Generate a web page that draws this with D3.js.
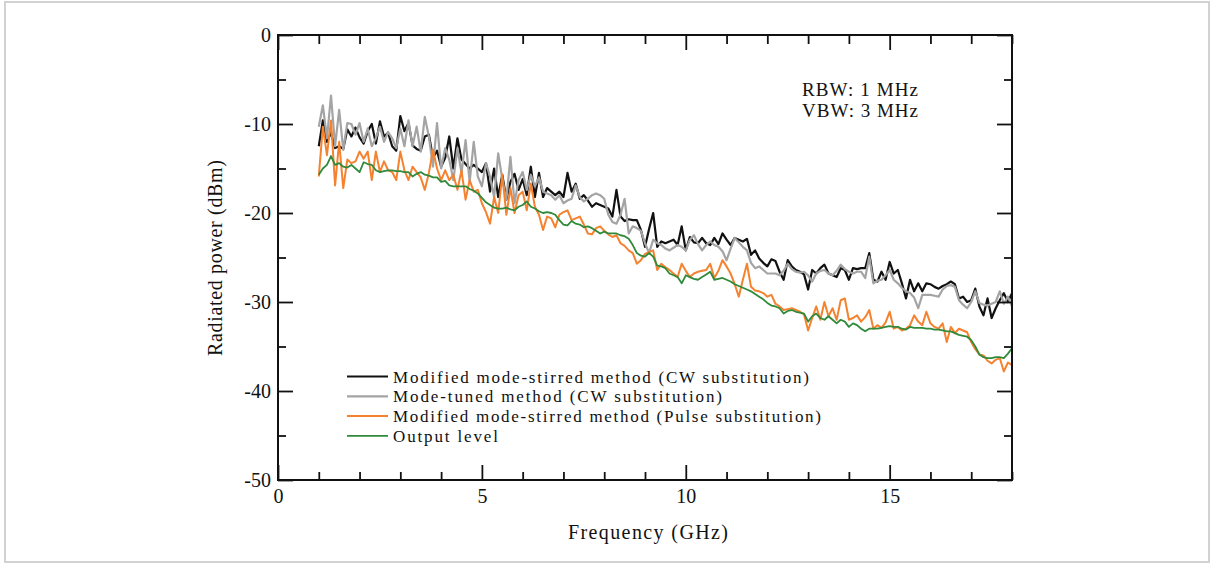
<!DOCTYPE html>
<meta charset="utf-8">
<head>
  <script src="https://d3js.org/d3.v7.min.js"></script>
</head>
<style>
  body { margin: 0; background: #fff; }
  text { font-family: "Liberation Serif", "Times New Roman", serif; fill: #111; }
  .axis path { display: none; }
  .axis line { stroke: #111; stroke-width: 1.8; }
  .axis text { font-size: 20px; font-family: "Liberation Serif", serif; fill: #111; }
</style>
<body>
<script>
  // frequencies: 1.0 .. 18.0 GHz, 0.1 GHz step
  var freq = d3.range(0, 171).map(function (i) { return +(1 + i * 0.1).toFixed(1); });

  var stirredCW = [
    -12.5, -9.6, -12.0, -11.0, -12.7, -12.5, -12.8, -10.6, -11.4, -10.4,
    -11.5, -12.2, -10.8, -10.0, -12.2, -9.7, -11.4, -11.0, -12.5, -13.0,
    -9.1, -10.8, -9.9, -12.4, -12.8, -13.0, -11.4, -11.2, -13.8, -13.0,
    -14.8, -13.8, -11.4, -15.0, -11.6, -14.0, -14.5, -15.0, -14.6, -15.0,
    -15.4, -14.4, -17.6, -15.0, -18.2, -15.7, -18.5, -16.5, -15.6, -17.4,
    -16.2, -18.0, -14.8, -18.2, -15.5, -18.2, -17.2, -17.6, -18.0, -17.6,
    -18.2, -15.5, -17.6, -16.7, -18.4, -18.0, -18.6, -19.3, -18.9, -19.1,
    -19.3, -19.5, -20.4, -17.4, -20.4, -20.9, -20.7, -20.8, -20.8, -21.9,
    -23.8, -21.8, -20.0, -23.8, -23.2, -23.4, -23.2, -23.0, -23.6, -21.5,
    -24.2, -22.7, -23.3, -23.4, -22.8, -23.4, -23.6, -22.8, -23.5, -22.3,
    -23.0, -23.6, -22.8, -23.0, -23.2, -22.9, -24.7, -24.2, -25.1, -25.6,
    -26.0, -25.2, -25.4, -26.6, -27.5, -25.3, -26.0, -26.4, -26.6, -26.9,
    -28.6, -26.4, -26.8, -26.2, -25.8, -26.8, -27.0, -27.2, -26.2, -26.4,
    -27.5, -26.2, -26.3, -26.2, -26.2, -24.5, -27.5, -27.7, -26.6, -27.5,
    -25.5, -26.8, -26.4, -27.9, -29.6, -27.5, -28.8, -27.9, -28.8, -27.9,
    -28.0, -28.3, -28.5, -28.2, -28.0, -27.7, -28.0, -29.6, -29.4, -30.0,
    -29.8, -28.5, -30.5, -31.5, -29.6, -31.8, -30.7, -29.8, -29.0, -30.0,
    -29.0
  ];

  var tunedCW = [
    -10.3, -7.9, -11.6, -6.8, -12.5, -8.4, -12.9, -9.9, -10.0, -11.2,
    -9.9, -12.0, -10.5, -12.5, -11.6, -10.3, -12.0, -10.9, -11.6, -12.7,
    -10.5, -12.5, -9.6, -12.5, -10.3, -13.1, -9.2, -11.4, -14.8, -9.9,
    -15.0, -12.7, -14.0, -16.3, -12.7, -15.5, -11.8, -16.5, -12.0, -15.9,
    -17.0, -14.4, -15.9, -18.2, -13.3, -16.2, -18.5, -13.7, -18.9, -16.3,
    -15.4, -17.4, -15.7, -17.0, -16.0, -17.6, -17.8, -18.0, -18.5, -18.0,
    -18.9, -18.6, -18.4, -16.9, -18.2, -18.7, -18.4, -18.0, -17.8, -18.0,
    -18.4, -20.2, -21.0, -21.2, -20.2, -18.4, -22.3, -21.5, -21.7, -22.0,
    -23.4, -24.5, -23.0, -23.4, -23.6, -24.0, -24.2, -23.9, -23.6, -23.8,
    -24.2, -23.0, -22.5, -23.5, -24.2, -23.6, -23.2, -23.6, -23.8, -24.3,
    -25.3, -24.0, -22.8, -23.3, -23.8, -24.2, -25.6, -26.2, -26.0, -26.4,
    -26.8, -26.8, -26.8, -27.0, -26.5, -25.7, -26.3, -26.6, -26.7, -26.6,
    -27.0, -27.7, -26.8, -26.5, -26.4, -26.8, -27.0, -26.5, -25.8, -26.3,
    -26.6, -26.8, -26.6, -26.6, -27.3, -24.9, -27.9, -27.6, -27.5, -27.0,
    -26.4, -27.5, -27.9, -28.4, -28.8, -29.0, -29.5, -30.7, -29.2, -29.2,
    -29.2, -29.3, -29.4, -28.6, -28.2, -28.1, -28.3, -29.8, -30.3, -30.7,
    -30.0, -28.8, -30.1, -30.3, -30.4, -30.2, -30.0, -28.8, -30.2, -29.4,
    -30.5
  ];

  var stirredPulse = [
    -15.9, -10.3, -13.5, -9.6, -16.9, -12.0, -17.2, -14.0, -14.4, -14.2,
    -13.1, -13.9, -13.1, -16.3, -13.1, -15.4, -14.2, -15.2, -15.4, -16.3,
    -13.1, -15.2, -16.3, -14.8, -15.4, -16.0, -17.4, -15.5, -12.9, -15.0,
    -16.3, -15.2, -16.3, -15.7, -17.4, -15.2, -18.5, -16.3, -17.6, -17.4,
    -18.9, -19.9, -21.2, -18.2, -20.0, -15.7, -20.2, -17.2, -20.0, -18.0,
    -17.6, -19.7, -16.7, -19.3, -20.2, -21.9, -20.4, -20.6, -21.6, -20.2,
    -19.9, -19.7, -20.8, -20.6, -20.4, -21.3, -22.3, -22.4, -21.7, -21.5,
    -22.0, -22.4, -22.7, -22.5, -23.4, -23.7, -24.2, -24.5, -25.7, -25.3,
    -24.6, -24.4, -24.2, -26.4, -25.7, -26.1, -26.4, -26.8, -27.2, -25.7,
    -26.5, -27.2, -26.8, -26.6, -26.5, -26.4, -25.7, -27.3, -26.5, -25.3,
    -26.0, -26.8, -28.0, -29.4, -27.5, -25.7, -28.3, -28.7, -28.8, -29.0,
    -29.4, -29.2, -30.2, -30.5, -30.9, -30.8, -30.7, -30.9, -31.1, -31.4,
    -33.2, -31.8, -30.5, -32.0, -30.0, -31.6, -30.7, -32.0, -29.8, -29.6,
    -32.0, -31.8, -31.5, -32.2, -31.7, -30.9, -33.0, -32.6, -32.9, -32.3,
    -31.1, -33.0, -32.8, -33.2, -33.0, -32.6, -31.5, -32.2, -32.6, -31.1,
    -32.4, -32.8, -33.0, -32.4, -34.5, -32.8, -33.5, -33.0, -33.2, -33.4,
    -34.5, -35.3, -35.9, -36.0, -36.6, -36.9, -36.5, -36.3, -37.8, -36.8,
    -37.1
  ];

  var outputLevel = [
    -15.7, -15.0, -14.6, -13.6, -14.6, -14.4, -14.8, -14.9, -14.6, -15.0,
    -15.4, -14.3, -14.5, -14.6, -15.2, -15.4, -15.3, -15.2, -15.2, -15.3,
    -15.3, -15.4, -15.4, -15.9, -15.6, -15.4, -15.7, -15.8, -16.0, -16.0,
    -16.5, -16.4, -16.9, -17.0, -17.0, -17.0, -17.0, -17.3, -17.5, -17.8,
    -18.3, -18.8, -19.1, -19.4, -19.5, -19.5, -19.4, -19.6, -19.7, -19.3,
    -19.1, -18.7, -19.3, -19.5, -19.8, -20.0, -19.9, -20.0, -20.2, -20.8,
    -21.3, -21.4, -20.9, -21.2, -21.3, -21.6, -21.5, -21.7, -22.0, -22.3,
    -22.1, -22.3, -22.3, -22.3, -22.5, -22.6, -22.9, -23.6, -24.5, -24.8,
    -24.9, -24.5, -24.9, -25.9, -26.0, -26.2, -26.8, -27.0, -27.2, -27.9,
    -27.0, -27.2, -27.4, -27.5, -27.2, -26.9, -26.6, -27.5, -27.4, -27.3,
    -27.5, -27.7, -28.0, -28.2, -28.4, -28.6, -28.8, -29.1, -29.4, -29.7,
    -30.1, -30.4, -30.5, -30.7, -31.3, -31.0, -30.9, -31.1, -31.2, -31.3,
    -32.2, -31.6, -31.3, -31.8, -32.0, -31.6, -32.0, -32.4, -32.0, -32.2,
    -32.8, -32.4, -32.6, -33.0, -33.3, -33.0, -33.0, -33.0, -32.9, -32.8,
    -32.7, -32.8, -32.8, -33.0, -33.1, -32.8, -32.9, -32.9, -32.9, -33.0,
    -33.0, -33.1, -33.1, -33.2, -33.3, -33.3, -33.5, -33.7, -33.8, -33.9,
    -34.3, -35.0, -35.9, -36.2, -36.3, -36.3, -36.2, -36.2, -36.3, -35.8,
    -35.2
  ];

  var seriesNames = [
    "Modified mode-stirred method (CW substitution)",
    "Mode-tuned method (CW substitution)",
    "Modified mode-stirred method (Pulse substitution)",
    "Output level"
  ];
  var seriesColors = ["#111111", "#a4a4a4", "#f5822f", "#2f8a3a"];
  var seriesWidths = [2.2, 2.2, 2, 1.8];
  var seriesData = [stirredCW, tunedCW, stirredPulse, outputLevel];
  var legendWidths = [418, 331, 430, 107];

  var xMajor = [0, 5, 10, 15];
  var xMinor = d3.range(0, 19).filter(function (d) { return d % 5 !== 0; });
  var yMajor = [0, -10, -20, -30, -40, -50];
  var yMinor = [-5, -15, -25, -35, -45];

  var width = 1215, height = 565;
  var svg = d3.select("body").append("svg")
    .attr("width", width)
    .attr("height", height);

  // light frame round the figure
  svg.append("rect")
    .attr("x", 5).attr("y", 2)
    .attr("width", 1204).attr("height", 560)
    .attr("fill", "none")
    .attr("stroke", "#d2d2d2")
    .attr("stroke-width", 2);

  var x = d3.scaleLinear().domain([0, 18]).range([278, 1012]);
  var y = d3.scaleLinear().domain([-50, 0]).range([480, 35]);
  var fmt = function (d) { return String(d); };

  // data lines
  var line = d3.line()
    .x(function (d, i) { return x(freq[i]); })
    .y(function (d) { return y(d); });

  svg.selectAll(".series")
    .data(seriesData)
    .enter().append("path")
    .attr("class", "series")
    .attr("fill", "none")
    .attr("stroke", function (d, i) { return seriesColors[i]; })
    .attr("stroke-width", function (d, i) { return seriesWidths[i]; })
    .attr("stroke-linejoin", "round")
    .attr("d", line);

  // axes, ticks pointing inward
  svg.append("g").attr("class", "axis").attr("transform", "translate(0,480)")
    .call(d3.axisBottom(x).tickValues(xMajor).tickFormat(fmt).tickSizeInner(-15).tickSizeOuter(0).tickPadding(9));
  svg.append("g").attr("class", "axis").attr("transform", "translate(0,480)")
    .call(d3.axisBottom(x).tickValues(xMinor).tickFormat("").tickSizeInner(-8).tickSizeOuter(0));
  svg.append("g").attr("class", "axis").attr("transform", "translate(0,35)")
    .call(d3.axisTop(x).tickValues(xMajor).tickFormat("").tickSizeInner(-15).tickSizeOuter(0));
  svg.append("g").attr("class", "axis").attr("transform", "translate(0,35)")
    .call(d3.axisTop(x).tickValues(xMinor).tickFormat("").tickSizeInner(-9).tickSizeOuter(0));

  svg.append("g").attr("class", "axis").attr("transform", "translate(278,0)")
    .call(d3.axisLeft(y).tickValues(yMajor).tickFormat(fmt).tickSizeInner(-15).tickSizeOuter(0).tickPadding(7));
  svg.append("g").attr("class", "axis").attr("transform", "translate(278,0)")
    .call(d3.axisLeft(y).tickValues(yMinor).tickFormat("").tickSizeInner(-8).tickSizeOuter(0));
  svg.append("g").attr("class", "axis").attr("transform", "translate(1012,0)")
    .call(d3.axisRight(y).tickValues(yMajor).tickFormat("").tickSizeInner(-15).tickSizeOuter(0));
  svg.append("g").attr("class", "axis").attr("transform", "translate(1012,0)")
    .call(d3.axisRight(y).tickValues(yMinor).tickFormat("").tickSizeInner(-8).tickSizeOuter(0));

  // plot frame
  svg.append("rect")
    .attr("x", 278).attr("y", 35)
    .attr("width", 1012 - 278).attr("height", 480 - 35)
    .attr("fill", "none")
    .attr("stroke", "#111")
    .attr("stroke-width", 2);

  // axis titles
  svg.append("text")
    .attr("x", 648).attr("y", 539)
    .attr("text-anchor", "middle")
    .attr("font-size", 20)
    .attr("textLength", 160).attr("lengthAdjust", "spacing")
    .text("Frequency (GHz)");

  svg.append("text")
    .attr("transform", "translate(222,258) rotate(-90)")
    .attr("text-anchor", "middle")
    .attr("font-size", 20)
    .attr("textLength", 196).attr("lengthAdjust", "spacing")
    .text("Radiated power (dBm)");

  // measurement note
  svg.append("text")
    .attr("x", 802).attr("y", 96)
    .attr("font-size", 19)
    .attr("textLength", 116).attr("lengthAdjust", "spacing")
    .text("RBW: 1 MHz");
  svg.append("text")
    .attr("x", 802).attr("y", 117)
    .attr("font-size", 19)
    .attr("textLength", 116).attr("lengthAdjust", "spacing")
    .text("VBW: 3 MHz");

  // legend
  var legend = svg.append("g").attr("transform", "translate(347,376.5)");
  var rows = legend.selectAll("g")
    .data(seriesNames)
    .enter().append("g")
    .attr("transform", function (d, i) { return "translate(0," + (i * 19.8) + ")"; });
  rows.append("line")
    .attr("x1", 0).attr("x2", 41)
    .attr("stroke", function (d, i) { return seriesColors[i]; })
    .attr("stroke-width", function (d, i) { return seriesWidths[i]; });
  rows.append("text")
    .attr("x", 46).attr("y", 6)
    .attr("font-size", 17)
    .attr("textLength", function (d, i) { return legendWidths[i] - 2; })
    .attr("lengthAdjust", "spacing")
    .text(function (d) { return d; });
</script>
</body>
